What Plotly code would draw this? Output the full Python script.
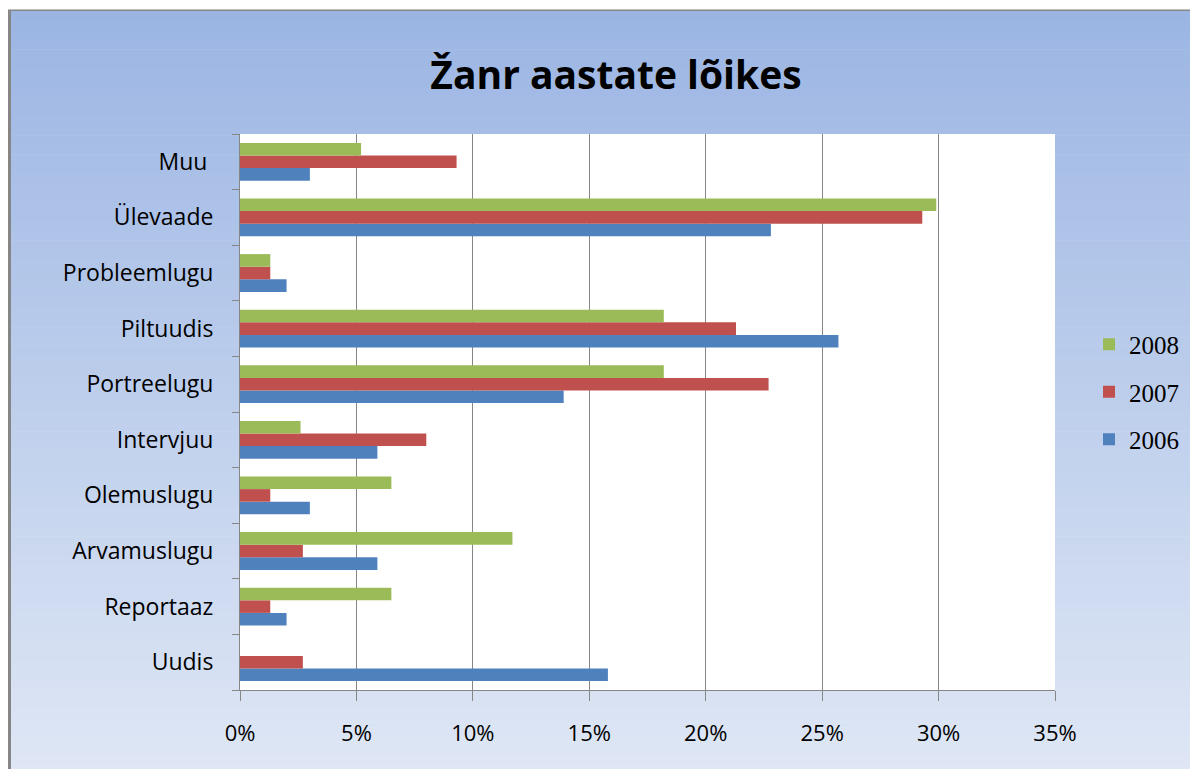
import plotly.graph_objects as go

# kategooriad alt üles
zanrid = ["Uudis", "Reportaaz", "Arvamuslugu", "Olemuslugu", "Intervjuu",
          "Portreelugu", "Piltuudis", "Probleemlugu", "Ülevaade", "Muu "]

# osakaalud protsentides
y2006 = [15.8, 2.0, 5.9, 3.0, 5.9, 13.9, 25.7, 2.0, 22.8, 3.0]
y2007 = [2.7, 1.3, 2.7, 1.3, 8.0, 22.7, 21.3, 1.3, 29.3, 9.3]
y2008 = [0.0, 6.5, 11.7, 6.5, 2.6, 18.2, 18.2, 1.3, 29.9, 5.2]

aastad = ["2006", "2007", "2008"]
varvid = ["#4F81BD", "#C0504D", "#9BBB59"]

# leht lisab 8 px nihke, seega arvutused lehe pikslites miinus 8
OFF = 8
W, H = 1198 - OFF, 769 - OFF
L, R, T, B = 240 - OFF, 1055 - OFF, 134 - OFF, 690 - OFF


def px_x(p):
    return (p - OFF - L) / (R - L)


def px_y(p):
    return (B - (p - OFF)) / (B - T)


fig = go.Figure()
for i, (aasta, vaartused, varv) in enumerate(zip(aastad, [y2006, y2007, y2008], varvid)):
    fig.add_trace(go.Bar(
        y=zanrid, x=vaartused, orientation="h", name=aasta,
        marker=dict(color=varv, line=dict(width=0)),
        legendgroup=aasta, legendrank=1000 - i,
    ))

# taust: vertikaalne gradient
shapes = []
n = 80
top_c = (155, 181, 227)
bot_c = (223, 231, 245)
y0, y1 = 11, 775
for i in range(n):
    a = y0 + (y1 - y0) * i / n
    b = y0 + (y1 - y0) * (i + 1) / n + 0.6
    t = (i + 0.5) / n
    c = tuple(round(top_c[k] + (bot_c[k] - top_c[k]) * t) for k in range(3))
    shapes.append(dict(
        type="rect", xref="paper", yref="paper", layer="below",
        x0=px_x(11), x1=px_x(1210), y0=px_y(b), y1=px_y(a),
        fillcolor="rgb(%d,%d,%d)" % c, line=dict(width=0),
    ))
# joonise ala valge
shapes.append(dict(type="rect", xref="paper", yref="paper", layer="below",
                   x0=0, x1=1, y0=0, y1=1, fillcolor="white", line=dict(width=0)))
# raam
shapes.append(dict(type="rect", xref="paper", yref="paper", layer="below",
                   x0=px_x(8), x1=px_x(11), y0=px_y(780), y1=px_y(10),
                   fillcolor="#868686", line=dict(width=0)))
shapes.append(dict(type="rect", xref="paper", yref="paper", layer="below",
                   x0=px_x(8), x1=px_x(1210), y0=px_y(11), y1=px_y(9.5),
                   fillcolor="#868686", line=dict(width=0)))

fig.update_layout(
    width=W, height=H,
    margin=dict(l=L, r=W - R, t=T, b=H - B, pad=0),
    paper_bgcolor="white", plot_bgcolor="white",
    barmode="group", bargap=0.32, bargroupgap=0,
    shapes=shapes,
    title=dict(text="<b>Žanr aastate lõikes</b>", x=px_x(616), xanchor="center",
               xref="paper", y=1 - (75 - OFF) / H, yanchor="middle",
               font=dict(family="Open Sans", size=39, color="black")),
    legend=dict(x=px_x(1184), xanchor="right", y=px_y(392), yanchor="middle",
                traceorder="grouped", tracegroupgap=12,
                bgcolor="rgba(0,0,0,0)",
                font=dict(family="Liberation Serif", size=25, color="black")),
    font=dict(family="Open Sans", size=22, color="black"),
)
fig.update_xaxes(
    range=[0, 35], dtick=5, ticksuffix="%",
    showgrid=True, gridcolor="#868686", gridwidth=1,
    showline=True, linecolor="#868686", linewidth=1,
    ticks="outside", ticklen=10, tickcolor="#868686",
    ticklabelstandoff=14, zeroline=False,
    tickfont=dict(family="Open Sans", size=22, color="black"),
)
fig.update_yaxes(
    categoryorder="array", categoryarray=zanrid,
    showline=True, linecolor="#868686", linewidth=1,
    ticks="outside", ticklen=7, tickcolor="#868686", tickson="boundaries",
    ticklabelstandoff=21, showgrid=False,
    tickfont=dict(family="Open Sans", size=23, color="black"),
)

fig.write_html("out.html")
